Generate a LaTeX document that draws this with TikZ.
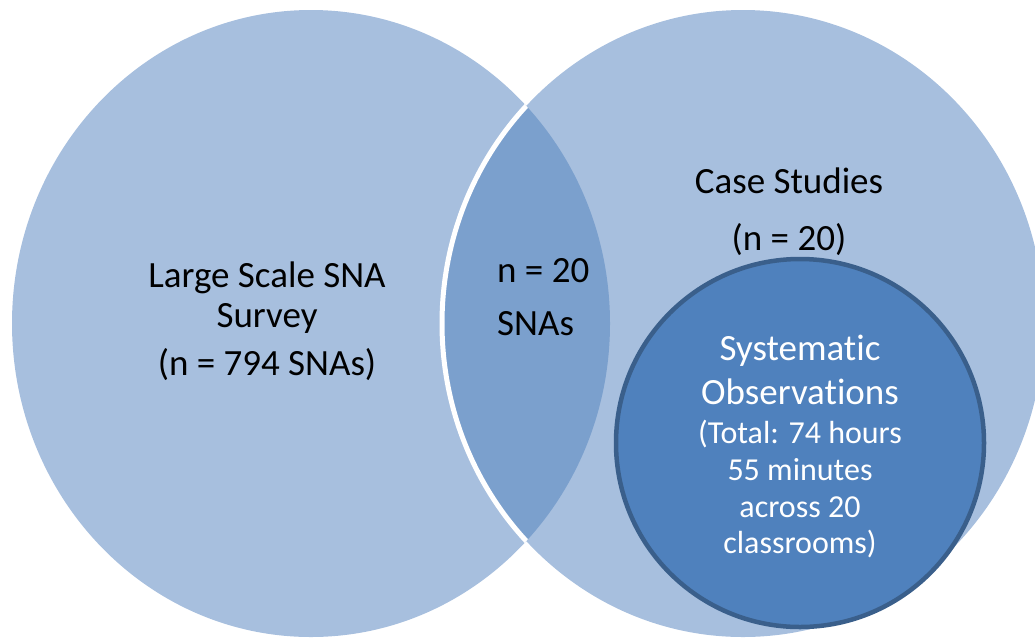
\documentclass[tikz,border=0pt]{standalone}
\usepackage{fontspec}
\setmainfont{Carlito}[RawFeature={-liga;-clig;-calt;-dlig}]
\definecolor{setblue}{HTML}{A7BFDE}
\definecolor{lensblue}{HTML}{7BA0CD}
\definecolor{obsblue}{HTML}{4F81BD}
\definecolor{obsborder}{HTML}{3A5F8B}
\begin{document}
\begin{tikzpicture}[x=1pt,y=-1pt,
  big/.style={inner sep=0pt, anchor=base, font=\fontsize{37}{44}\selectfont, text=black},
  bigw/.style={big, text=white},
  smallw/.style={inner sep=0pt, anchor=base, font=\fontsize{32}{38}\selectfont, text=white}]
\useasboundingbox (0,0) rectangle (1035,638);
% sets
\fill[setblue] (311,323.5) ellipse [x radius=299, y radius=313.5];
\fill[setblue] (743,323.5) ellipse [x radius=301, y radius=313.5];
\begin{scope}
  \clip (311,323.5) ellipse [x radius=299, y radius=313.5];
  \fill[lensblue] (743,323.5) ellipse [x radius=301, y radius=313.5];
  \draw[white, line width=5pt] (743,323.5) ellipse [x radius=301, y radius=313.5];
\end{scope}
\node[draw=obsborder, line width=4.5pt, fill=obsblue, circle, minimum size=368pt, inner sep=0pt] (obs) at (800,443) {};
% labels
\node[big] (l1) at (267,287) {Large Scale SNA};
\node[big] (l2) at (267,327) {Survey};
\node[big] (l3) at (267,375) {(n = 794 SNAs)};
\node[big, anchor=base west] (m1) at (497,282) {n = 20};
\node[big, anchor=base west] (m2) at (497,335) {SNAs};
\node[big] (r1) at (789,193) {Case Studies};
\node[big] (r2) at (789,250) {(n = 20)};
\node[bigw] (o1) at (800,360) {Systemat\kern0pt ic};
\node[bigw] (o2) at (800,404) {Observat\kern0pt ions};
\node[smallw] (o3) at (800,443) {(Total: 74 hours};
\node[smallw] (o4) at (800,480) {55 minutes};
\node[smallw] (o5) at (800,517) {across 20};
\node[smallw] (o6) at (800,553) {classrooms)};
\end{tikzpicture}
\end{document}
